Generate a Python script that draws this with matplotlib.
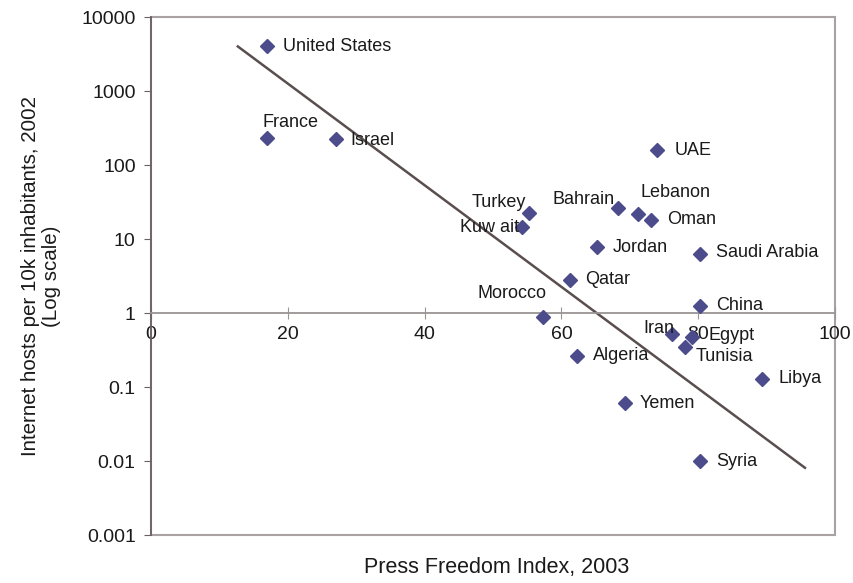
import matplotlib
matplotlib.use("Agg")
import matplotlib.pyplot as plt
from matplotlib.patches import Rectangle
from matplotlib.ticker import FixedLocator, FixedFormatter, NullLocator

plt.rcParams['font.family'] = ['Liberation Sans', 'DejaVu Sans']

countries = ["United States", "France", "Israel", "UAE", "Turkey", "Kuw ait",
             "Bahrain", "Lebanon", "Oman", "Jordan", "Saudi Arabia", "Qatar",
             "China", "Morocco", "Iran", "Egypt", "Tunisia", "Algeria",
             "Libya", "Yemen", "Syria"]
press_freedom = [17, 17, 27, 74, 55.3, 54.2, 68.3, 71.2, 73.1, 65.2, 80.3, 61.3,
                 80.3, 57.3, 76.2, 79.1, 78.1, 62.3, 89.3, 69.3, 80.3]
hosts = [4000, 232, 224, 158, 22.4, 14.5, 26, 22, 18, 7.8, 6.3, 2.8,
         1.24, 0.89, 0.52, 0.48, 0.35, 0.26, 0.13, 0.06, 0.01]

# label placement: (dx px, dy px, ha)
label_pos = {
    "United States": (16, 0, "left"), "France": (-5, 15, "left"),
    "Israel": (15, -1, "left"), "UAE": (17, 0, "left"),
    "Turkey": (-3, 11, "right"), "Kuw ait": (-3, 0, "right"),
    "Bahrain": (-4, 9, "right"), "Lebanon": (2, 21, "left"),
    "Oman": (16, 1, "left"), "Jordan": (16, 0, "left"),
    "Saudi Arabia": (16, 1, "left"), "Qatar": (15, 0, "left"),
    "China": (16, 1, "left"), "Morocco": (4, 23, "right"),
    "Iran": (2, 6, "right"), "Egypt": (16, 1, "left"),
    "Tunisia": (10, -10, "left"), "Algeria": (16, 1, "left"),
    "Libya": (17, 0, "left"), "Yemen": (15, 0, "left"),
    "Syria": (16, 0, "left"),
}

trend_x = [12.7, 95.6]
trend_y = [4000, 0.0081]

x_ticks = [0, 20, 40, 60, 80, 100]
y_ticks = [0.001, 0.01, 0.1, 1, 10, 100, 1000, 10000]
y_tick_labels = ["0.001", "0.01", "0.1", "1", "10", "100", "1000", "10000"]

fig = plt.figure(figsize=(8.54, 5.83), dpi=100)
ax = fig.add_axes([0.1768, 0.0823, 0.801, 0.8885])
ax.set_yscale('log')
ax.set_xlim(0, 100)
ax.set_ylim(0.001, 10000)

ax.plot(trend_x, trend_y, color='#5a4e4e', lw=1.8, zorder=2)
ax.plot(press_freedom, hosts, linestyle='none', marker='D', ms=7.5,
        color='#4c4c8c', zorder=3)

for name, x, y in zip(countries, press_freedom, hosts):
    dx, dy, ha = label_pos[name]
    ax.annotate(name, (x, y), xytext=(dx, dy), textcoords='offset pixels',
                ha=ha, va='center', fontsize=13, color='#1a1a1a', zorder=4)

# frame
for s in ['top', 'right']:
    ax.spines[s].set_visible(False)
ax.spines['left'].set_color('#6a6262')
ax.spines['left'].set_linewidth(1.3)
ax.spines['bottom'].set_position(('data', 1))
ax.spines['bottom'].set_color('#9a9494')
ax.spines['bottom'].set_linewidth(1.3)
ax.add_patch(Rectangle((0, 0), 1, 1, transform=ax.transAxes, fill=False,
                       edgecolor='#a8a2a2', lw=1.5, zorder=0, clip_on=False))

ax.yaxis.set_major_locator(FixedLocator(y_ticks))
ax.yaxis.set_major_formatter(FixedFormatter(y_tick_labels))
ax.yaxis.set_minor_locator(NullLocator())
ax.set_xticks(x_ticks)
ax.set_xticklabels([str(v) for v in x_ticks])
ax.tick_params(axis='y', direction='out', length=5, color='#6a6262',
               labelsize=14, pad=6, labelcolor='#1a1a1a')
ax.tick_params(axis='x', direction='inout', length=8, color='#9a9494',
               labelsize=14, pad=5, labelcolor='#1a1a1a')

ax.set_ylabel("Internet hosts per 10k inhabitants, 2002\n(Log scale)",
              fontsize=14.75, color='#1a1a1a', linespacing=1.15)
ax.yaxis.set_label_coords(-0.131, 0.5)
fig.text(0.582, 0.026, "Press Freedom Index, 2003", ha='center', va='center',
         fontsize=15.5, color='#1a1a1a')

fig.savefig("out.png", dpi=100)
